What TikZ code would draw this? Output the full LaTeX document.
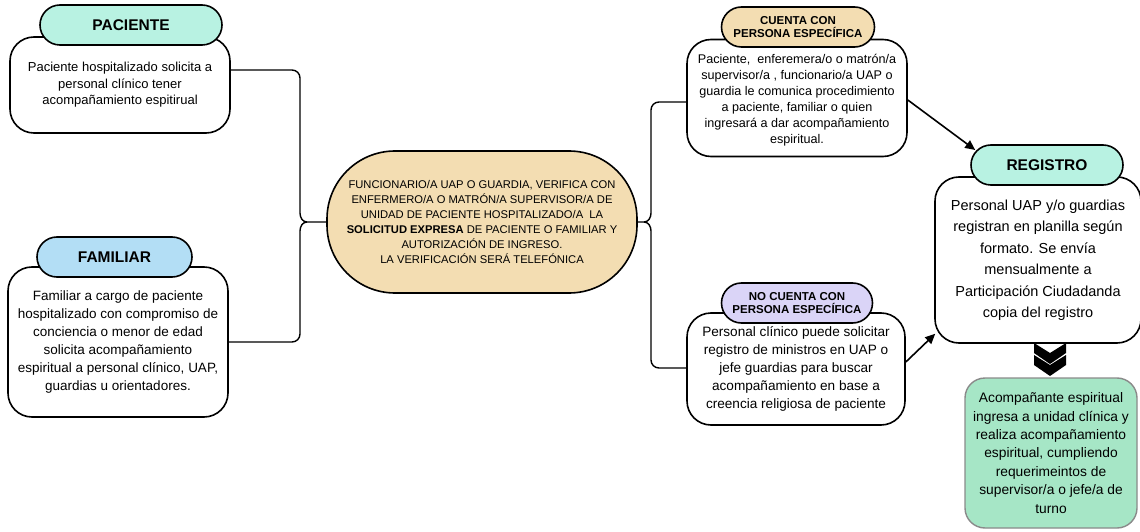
\documentclass[tikz,border=0pt]{standalone}
\usepackage{fontspec}
\setmainfont{Liberation Sans}
\usetikzlibrary{arrows.meta}
\definecolor{aqua}{HTML}{B8F2E2}
\definecolor{famblue}{HTML}{B3DEF5}
\definecolor{tan}{HTML}{F3DDB2}
\definecolor{lav}{HTML}{DAD4F7}
\definecolor{mint}{HTML}{A6E6C6}
\definecolor{mintborder}{HTML}{8A8A8A}
\tikzset{
  body/.style={draw=black, line width=1.6pt, fill=white, rounded corners=24pt, align=center, inner sep=0pt},
  head/.style={draw=black, line width=1.6pt, rounded corners=20pt, align=center, inner sep=0pt, minimum height=40pt},
  headbig/.style={head, font=\fontsize{15.5}{18}\selectfont\bfseries},
  headsmall/.style={head, font=\fontsize{11.5}{13.5}\selectfont\bfseries},
  conn/.style={draw=black, line width=1.4pt},
  arr/.style={draw=black, line width=1.6pt, -{Triangle[length=10pt,width=9pt]}},
  chev/.style={fill=black, draw=none}
}
\begin{document}
\begin{tikzpicture}[x=1pt,y=1pt]
\useasboundingbox (0,0) rectangle (1140,531);
% ---- left: PACIENTE
\node[body, minimum width=220pt, minimum height=96pt, font=\fontsize{13}{16.5}\selectfont] (pacbody) at (120,446)
  {Paciente hospitalizado solicita a\\personal clínico tener\\acompañamiento espitirual};
\node[headbig, fill=aqua, minimum width=182pt] (pachead) at (131,506) {PACIENTE};
% ---- left: FAMILIAR
\node[body, minimum width=220pt, minimum height=150pt, font=\fontsize{13.5}{18}\selectfont] (fambody) at (118,189)
  {Familiar a cargo de paciente\\hospitalizado con compromiso de\\conciencia o menor de edad\\solicita acompañamiento\\espiritual a personal clínico, UAP,\\guardias u orientadores.};
\node[headbig, fill=famblue, minimum width=155pt] (famhead) at (114.5,274) {FAMILIAR};
% ---- center
\node[draw=black, line width=1.6pt, fill=tan, rounded corners=68pt, minimum width=310pt, minimum height=142pt,
      align=center, inner sep=0pt, font=\fontsize{11.2}{15}\selectfont] (center) at (482,309)
  {FUNCIONARIO/A UAP O GUARDIA, VERIFICA CON\\ENFERMERO/A O MATRÓN/A SUPERVISOR/A DE\\UNIDAD DE PACIENTE HOSPITALIZADO/A \ LA\\\textbf{SOLICITUD EXPRESA} DE PACIENTE O FAMILIAR Y\\AUTORIZACIÓN DE INGRESO.\\LA VERIFICACIÓN SERÁ TELEFÓNICA};
% ---- CUENTA CON
\node[body, minimum width=220pt, minimum height=117pt, font=\fontsize{12.6}{16}\selectfont] (cuebody) at (797,433)
  {\rule{0pt}{14pt}Paciente, \ enferemera/o o matrón/a\\supervisor/a , funcionario/a UAP o\\guardia le comunica procedimiento\\a paciente, familiar o quien\\ingresará a dar acompañamiento\\espiritual.};
\node[headsmall, fill=tan, minimum width=153pt] (cuehead) at (798,504) {CUENTA CON\\PERSONA ESPECÍFICA};
% ---- NO CUENTA CON
\node[body, minimum width=218pt, minimum height=112pt, font=\fontsize{13.6}{18}\selectfont] (nocbody) at (796,162)
  {Personal clínico puede solicitar\\registro de ministros en UAP o\\jefe guardias para buscar\\acompañamiento en base a\\creencia religiosa de paciente};
\node[headsmall, fill=lav, minimum width=151pt] (nochead) at (797,228) {NO CUENTA CON\\PERSONA ESPECÍFICA};
% ---- REGISTRO
\node[body, minimum width=206pt, minimum height=166pt, font=\fontsize{14.5}{21.5}\selectfont] (regbody) at (1038,271)
  {Personal UAP y/o guardias\\registran en planilla según\\formato. Se envía\\mensualmente a\\Participación Ciudadanda\\copia del registro};
\node[headbig, fill=aqua, minimum width=152pt] (reghead) at (1047,366) {REGISTRO};
% ---- final
\node[draw=mintborder, line width=1.4pt, fill=mint, rounded corners=20pt, minimum width=172pt, minimum height=150pt,
      align=center, inner sep=0pt, font=\fontsize{13.8}{18.4}\selectfont] (final) at (1051,78)
  {Acompañante espiritual\\ingresa a unidad clínica y\\realiza acompañamiento\\espiritual, cumpliendo\\requerimeintos de\\supervisor/a o jefe/a de\\turno};
% ---- double chevron
\coordinate (chevtop) at (1050,188);
\foreach \dy in {0,-12}{
  \fill[chev] ([shift={(-16,\dy)}]chevtop) -- ([shift={(0,\dy-10)}]chevtop) -- ([shift={(16,\dy)}]chevtop)
    -- ([shift={(16,\dy-10)}]chevtop) -- ([shift={(0,\dy-21)}]chevtop) -- ([shift={(-16,\dy-10)}]chevtop) -- cycle;
}
% ---- left brace
\coordinate (lcusp) at (307,309);
\draw[conn] ([yshift=15pt]pacbody.east) -- (292,461) to[out=0,in=90] (300,453) -- (300,318)
  to[out=-90,in=180] (lcusp) -- (center.west);
\draw[conn] (fambody.east) -- (292,189) to[out=0,in=-90] (300,197) -- (300,300)
  to[out=90,in=180] (lcusp);
% ---- right brace
\coordinate (rcusp) at (644,309);
\draw[conn] (center.east) -- (rcusp) to[out=0,in=-90] (651,318) -- (651,421)
  to[out=90,in=180] (659,429) -- (cuebody.west |- 0,429);
\draw[conn] (rcusp) to[out=0,in=90] (651,300) -- (651,171)
  to[out=-90,in=180] (659,163) -- (nocbody.west |- 0,163);
% ---- arrows
\draw[arr] ([yshift=-2pt]cuebody.east) -- ([shift={(5pt,15pt)}]reghead.west);
\draw[arr] ([yshift=7pt]nocbody.east) -- ([shift={(1pt,10pt)}]regbody.south west);
\end{tikzpicture}
\end{document}
